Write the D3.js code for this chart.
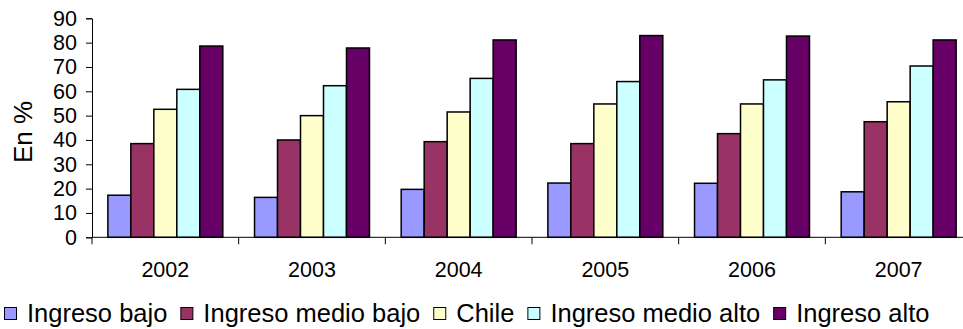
<!DOCTYPE html>
<html><head><meta charset="utf-8">
<script src="https://cdn.jsdelivr.net/npm/d3@7"></script>
<style>body{margin:0;background:#fff}svg{display:block}text{font-family:"Liberation Sans",Arial,sans-serif;fill:#000}</style>
</head><body><svg id="c" width="963" height="329"></svg>
<script>
const categories = ["2002","2003","2004","2005","2006","2007"];
const seriesNames = ["Ingreso bajo","Ingreso medio bajo","Chile","Ingreso medio alto","Ingreso alto"];
const ingresoBajo = [17.3,16.4,19.7,22.3,22.2,18.7];
const ingresoMedioBajo = [38.5,40.0,39.3,38.5,42.6,47.5];
const chile = [52.6,50.0,51.5,54.8,54.8,55.7];
const ingresoMedioAlto = [60.8,62.3,65.3,64.0,64.7,70.4];
const ingresoAlto = [78.6,77.8,81.1,82.9,82.7,81.1];
const yTicks = [0,10,20,30,40,50,60,70,80,90];
const colors = ["#9999FF","#993366","#FFFFCC","#CCFFFF","#660066"];
const series = [ingresoBajo,ingresoMedioBajo,chile,ingresoMedioAlto,ingresoAlto];

const svg = d3.select("#c");
const x0 = d3.scaleBand().domain(categories).range([92,972]).paddingInner(0).paddingOuter(0);
const x1 = d3.scaleBand().domain(seriesNames).range([0,x0.bandwidth()]).paddingOuter(0.69).paddingInner(0);
const y = d3.scaleLinear().domain([0,90]).range([237.3,18.3]);

// bars
categories.forEach((c,i)=>{
  seriesNames.forEach((s,j)=>{
    svg.append("rect")
      .attr("x", x0(c)+x1(s))
      .attr("y", y(series[j][i]))
      .attr("width", x1.bandwidth())
      .attr("height", y(0)-y(series[j][i]))
      .attr("fill", colors[j]).attr("stroke","#000").attr("stroke-width",1.5);
  });
});

// y axis
const ya = svg.append("g").attr("transform","translate(92,0)")
  .call(d3.axisLeft(y).tickValues(yTicks).tickSize(6).tickPadding(9).tickFormat(d3.format("d")));
ya.select(".domain").attr("stroke","#000");
ya.selectAll("text").style("font-size","21.5px").attr("fill","#000");

// x axis
const xa = svg.append("g").attr("transform","translate(0,237.3)");
xa.append("line").attr("x1",92).attr("x2",972).attr("stroke","#000");
categories.forEach((c,i)=>{
  xa.append("line").attr("x1",x0(c)).attr("x2",x0(c)).attr("y1",0).attr("y2",7).attr("stroke","#000");
  xa.append("text").attr("x",x0(c)+x0.bandwidth()/2).attr("y",40).attr("text-anchor","middle")
    .style("font-size","21.5px").text(c);
});

// y title
svg.append("text").attr("transform","translate(32,132) rotate(-90)").attr("text-anchor","middle")
  .style("font-size","26px").text("En %");

// legend
let lx = 4;
seriesNames.forEach((s,j)=>{
  svg.append("rect").attr("x",lx+0.5).attr("y",307.5).attr("width",12).attr("height",12)
    .attr("fill",colors[j]).attr("stroke","#000").attr("stroke-width",1);
  const t = svg.append("text").attr("x",lx+23).attr("y",321.5).style("font-size","25.5px").text(s);
  lx += 23 + t.node().getComputedTextLength() + 13;
});
</script></body></html>
